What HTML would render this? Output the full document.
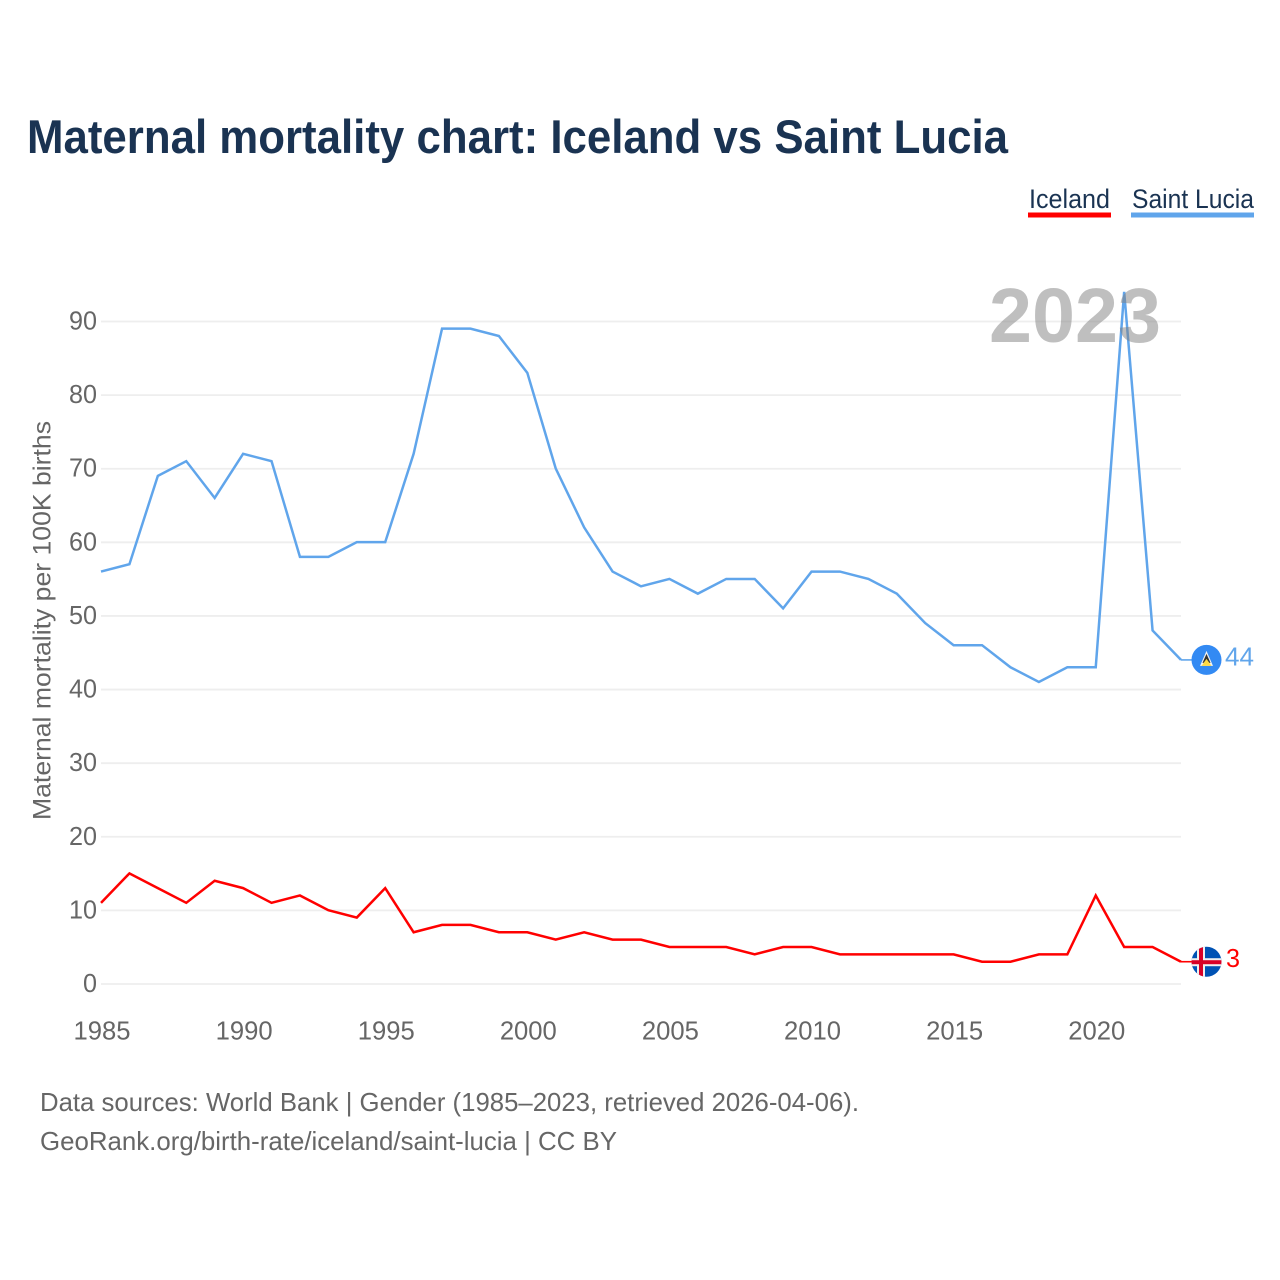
<!DOCTYPE html>
<html lang="en">
<head>
<meta charset="utf-8">
<title>Maternal mortality chart: Iceland vs Saint Lucia</title>
<style>
html,body{margin:0;padding:0;background:#fff;width:1280px;height:1280px;overflow:hidden}
svg{display:block}
text{font-family:"Liberation Sans",sans-serif}
</style>
</head>
<body>
<svg id="chart" xmlns="http://www.w3.org/2000/svg" width="1280" height="1280" viewBox="0 0 1280 1280">
  <defs>
    <clipPath id="clip-lc"><circle id="clip-lc-c" cx="1206.5" r="15"></circle></clipPath>
    <clipPath id="clip-is"><circle id="clip-is-c" cx="1206.5" r="15"></circle></clipPath>
  </defs>
  <rect width="1280" height="1280" fill="#fff"></rect>
  <text x="27" y="153" font-size="47" font-weight="700" fill="#1a3352" textLength="981" lengthAdjust="spacingAndGlyphs">Maternal mortality chart: Iceland vs Saint Lucia</text>

  <g>
    <g>
      <text x="1029" y="208" font-size="27" fill="#1a3352" textLength="81" lengthAdjust="spacingAndGlyphs">Iceland</text>
      <rect x="1028" y="212.5" width="83" height="5" fill="#ff0000"></rect>
    </g>
    <g>
      <text x="1132" y="208" font-size="27" fill="#1a3352" textLength="122" lengthAdjust="spacingAndGlyphs">Saint Lucia</text>
      <rect x="1131" y="212.5" width="123" height="5" fill="#60a5eb"></rect>
    </g>
  </g>

  <g id="grid"></g>
  <g id="yticks"></g>
  <g id="xticks"></g>
  <text transform="translate(50.5,620.5) rotate(-90)" text-anchor="middle" font-size="25" fill="#666666" textLength="399" lengthAdjust="spacingAndGlyphs">Maternal mortality per 100K births</text>

  <path id="line-lc" fill="none" stroke="#60a5eb" stroke-width="2.5" stroke-linejoin="miter"></path>
  <path id="line-is" fill="none" stroke="#ff0000" stroke-width="2.5" stroke-linejoin="miter"></path>
  <line id="conn-lc" stroke="#60a5eb" stroke-width="1.6"></line>
  <line id="conn-is" stroke="#ff0000" stroke-width="1.6"></line>

  <text x="989" y="342" font-size="77" font-weight="700" fill="#808080" fill-opacity="0.5" textLength="172" lengthAdjust="spacingAndGlyphs">2023</text>

  <g id="flag-lc">
    <g clip-path="url(#clip-lc)">
      <rect x="1190" width="33" height="32" fill="#338af3" id="lc-bg"></rect>
      <polygon id="lc-w" fill="#f3f3f3"></polygon>
      <polygon id="lc-k" fill="#333333"></polygon>
      <polygon id="lc-y" fill="#ffda44"></polygon>
    </g>
  </g>
  <text id="val-lc" x="1225" font-size="26" fill="#60a5eb" textLength="29" lengthAdjust="spacingAndGlyphs"></text>

  <g id="flag-is">
    <g clip-path="url(#clip-is)">
      <rect id="is-bg" x="1190" width="33" height="32" fill="#0052b4"></rect>
      <rect id="is-wh" x="1190" width="33" height="8" fill="#f0f0f0"></rect>
      <rect id="is-wv" x="1197" width="8" height="32" fill="#f0f0f0"></rect>
      <rect id="is-rh" x="1190" width="33" height="4" fill="#d80027"></rect>
      <rect id="is-rv" x="1199" width="4" height="32" fill="#d80027"></rect>
    </g>
  </g>
  <text id="val-is" x="1226" font-size="26" fill="#ff0000" textLength="14" lengthAdjust="spacingAndGlyphs"></text>

  <text x="40" y="1111" font-size="26" fill="#666666" textLength="819" lengthAdjust="spacingAndGlyphs">Data sources: World Bank | Gender (1985–2023, retrieved 2026-04-06).</text>
  <text x="40" y="1150" font-size="26" fill="#666666" textLength="577" lengthAdjust="spacingAndGlyphs">GeoRank.org/birth-rate/iceland/saint-lucia | CC BY</text>
</svg>
<script>
const startYear = 1985;
const yTickValues = [0, 10, 20, 30, 40, 50, 60, 70, 80, 90];
const xTickValues = [1985, 1990, 1995, 2000, 2005, 2010, 2015, 2020];
const saintLuciaValues = [56,57,69,71,66,72,71,58,58,60,60,72,89,89,88,83,70,62,56,54,55,53,55,55,51,56,56,55,53,49,46,46,43,41,43,43,94,48,44];
const icelandValues = [11,15,13,11,14,13,11,12,10,9,13,7,8,8,7,7,6,7,6,6,5,5,5,4,5,5,4,4,4,4,4,3,3,4,4,12,5,5,3];

const NS = 'http://www.w3.org/2000/svg';
const $ = id => document.getElementById(id);
const xScale = year => 101 + (year - 1985) * (1080 / 38);
const yScale = v => 983.8 - v * (662.5 / 90);

function svgEl(tag, parent, props) {
  const el = document.createElementNS(NS, tag);
  for (const k in props) el.setAttribute(k, props[k]);
  parent.appendChild(el);
  return el;
}

yTickValues.forEach(v => {
  const gl = svgEl('line', $('grid'), { x1: 101, x2: 1181, y1: yScale(v) + 0.2, y2: yScale(v) + 0.2, stroke: '#eeeeee', 'stroke-width': 1.8 });
  
  
  const label = String(v);
  const t = svgEl('text', $('yticks'), { x: 97, y: yScale(v) + 8.2, 'text-anchor': 'end', 'font-size': 26, fill: '#666666', textLength: label.length * 14, lengthAdjust: 'spacingAndGlyphs' });
  
  
  t.textContent = label;
});

xTickValues.forEach(y => {
  const t = svgEl('text', $('xticks'), { x: xScale(y) + 1, y: 1039.5, 'text-anchor': 'middle', 'font-size': 26, fill: '#666666', textLength: 57, lengthAdjust: 'spacingAndGlyphs' });
  
  
  t.textContent = String(y);
});

function linePath(values) {
  return values.map((v, i) => (i ? 'L' : 'M') + xScale(startYear + i).toFixed(2) + ' ' + yScale(v).toFixed(2)).join('');
}
$('line-lc').setAttribute('d', linePath(saintLuciaValues));
$('line-is').setAttribute('d', linePath(icelandValues));

function placeEnd(values, conn, clipC, valEl) {
  const last = values[values.length - 1];
  const y = yScale(last);
  const c = $(conn);
  c.setAttribute('x1', 1181); c.setAttribute('x2', 1192);
  c.setAttribute('y1', y); c.setAttribute('y2', y);
  $(clipC).setAttribute('cy', y);
  const t = $(valEl);
  t.setAttribute('y', y + 5.5);
  t.textContent = String(last);
  return y;
}
const yLc = placeEnd(saintLuciaValues, 'conn-lc', 'clip-lc-c', 'val-lc');
const yIs = placeEnd(icelandValues, 'conn-is', 'clip-is-c', 'val-is');

$('lc-bg').setAttribute('y', yLc - 16);
const cx = 1206.5;
$('lc-w').setAttribute('points', `${cx},${yLc-9} ${cx+6.5},${yLc+6} ${cx-6.5},${yLc+6}`);
$('lc-k').setAttribute('points', `${cx},${yLc-6} ${cx+4},${yLc+3} ${cx-4},${yLc+3}`);
$('lc-y').setAttribute('points', `${cx},${yLc-1} ${cx+5},${yLc+6} ${cx-5},${yLc+6}`);

$('is-bg').setAttribute('y', yIs - 16);
$('is-wh').setAttribute('y', yIs - 3.5);
$('is-wv').setAttribute('y', yIs - 16);
$('is-rh').setAttribute('y', yIs - 1.5);
$('is-rv').setAttribute('y', yIs - 16);
</script>
</body>
</html>
